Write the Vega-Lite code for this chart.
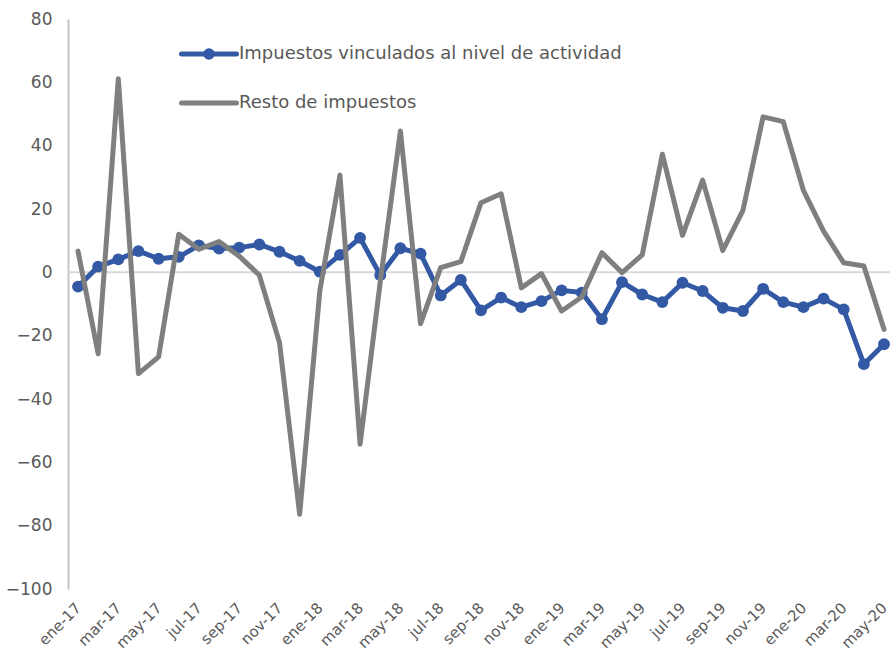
{
  "$schema": "https://vega.github.io/schema/vega-lite/v6.json",
  "width": 822,
  "height": 570,
  "autosize": {"type": "none"},
  "padding": {"left": 68, "top": 19, "right": 1, "bottom": 74},
  "background": "white",
  "config": {"view": {"stroke": null}, "font": "DejaVu Sans"},
  "datasets": {
    "tabla": [
      {"mes": "ene-17", "Impuestos vinculados al nivel de actividad": -4.5, "Resto de impuestos": 6.7},
      {"mes": "feb-17", "Impuestos vinculados al nivel de actividad": 1.8, "Resto de impuestos": -25.7},
      {"mes": "mar-17", "Impuestos vinculados al nivel de actividad": 4.1, "Resto de impuestos": 61.1},
      {"mes": "abr-17", "Impuestos vinculados al nivel de actividad": 6.7, "Resto de impuestos": -32},
      {"mes": "may-17", "Impuestos vinculados al nivel de actividad": 4.3, "Resto de impuestos": -26.7},
      {"mes": "jun-17", "Impuestos vinculados al nivel de actividad": 4.9, "Resto de impuestos": 12},
      {"mes": "jul-17", "Impuestos vinculados al nivel de actividad": 8.5, "Resto de impuestos": 7.3},
      {"mes": "ago-17", "Impuestos vinculados al nivel de actividad": 7.5, "Resto de impuestos": 9.7},
      {"mes": "sep-17", "Impuestos vinculados al nivel de actividad": 7.8, "Resto de impuestos": 5.1},
      {"mes": "oct-17", "Impuestos vinculados al nivel de actividad": 8.8, "Resto de impuestos": -0.9},
      {"mes": "nov-17", "Impuestos vinculados al nivel de actividad": 6.5, "Resto de impuestos": -22.2},
      {"mes": "dic-17", "Impuestos vinculados al nivel de actividad": 3.6, "Resto de impuestos": -76.4},
      {"mes": "ene-18", "Impuestos vinculados al nivel de actividad": 0.2, "Resto de impuestos": -5.9},
      {"mes": "feb-18", "Impuestos vinculados al nivel de actividad": 5.5, "Resto de impuestos": 30.7},
      {"mes": "mar-18", "Impuestos vinculados al nivel de actividad": 10.9, "Resto de impuestos": -54.3},
      {"mes": "abr-18", "Impuestos vinculados al nivel de actividad": -0.9, "Resto de impuestos": -3},
      {"mes": "may-18", "Impuestos vinculados al nivel de actividad": 7.6, "Resto de impuestos": 44.6},
      {"mes": "jun-18", "Impuestos vinculados al nivel de actividad": 5.9, "Resto de impuestos": -16.2},
      {"mes": "jul-18", "Impuestos vinculados al nivel de actividad": -7.3, "Resto de impuestos": 1.5},
      {"mes": "ago-18", "Impuestos vinculados al nivel de actividad": -2.4, "Resto de impuestos": 3.4},
      {"mes": "sep-18", "Impuestos vinculados al nivel de actividad": -12, "Resto de impuestos": 22},
      {"mes": "oct-18", "Impuestos vinculados al nivel de actividad": -8.0, "Resto de impuestos": 24.8},
      {"mes": "nov-18", "Impuestos vinculados al nivel de actividad": -11, "Resto de impuestos": -4.9},
      {"mes": "dic-18", "Impuestos vinculados al nivel de actividad": -9.1, "Resto de impuestos": -0.4},
      {"mes": "ene-19", "Impuestos vinculados al nivel de actividad": -5.7, "Resto de impuestos": -12.2},
      {"mes": "feb-19", "Impuestos vinculados al nivel de actividad": -6.4, "Resto de impuestos": -7.8},
      {"mes": "mar-19", "Impuestos vinculados al nivel de actividad": -14.8, "Resto de impuestos": 6.2},
      {"mes": "abr-19", "Impuestos vinculados al nivel de actividad": -3.1, "Resto de impuestos": -0.1},
      {"mes": "may-19", "Impuestos vinculados al nivel de actividad": -7.0, "Resto de impuestos": 5.5},
      {"mes": "jun-19", "Impuestos vinculados al nivel de actividad": -9.4, "Resto de impuestos": 37.3},
      {"mes": "jul-19", "Impuestos vinculados al nivel de actividad": -3.3, "Resto de impuestos": 11.7},
      {"mes": "ago-19", "Impuestos vinculados al nivel de actividad": -5.9, "Resto de impuestos": 29.1},
      {"mes": "sep-19", "Impuestos vinculados al nivel de actividad": -11.2, "Resto de impuestos": 6.9},
      {"mes": "oct-19", "Impuestos vinculados al nivel de actividad": -12.2, "Resto de impuestos": 19.6},
      {"mes": "nov-19", "Impuestos vinculados al nivel de actividad": -5.2, "Resto de impuestos": 49.1},
      {"mes": "dic-19", "Impuestos vinculados al nivel de actividad": -9.4, "Resto de impuestos": 47.6},
      {"mes": "ene-20", "Impuestos vinculados al nivel de actividad": -11, "Resto de impuestos": 25.9},
      {"mes": "feb-20", "Impuestos vinculados al nivel de actividad": -8.3, "Resto de impuestos": 13.0},
      {"mes": "mar-20", "Impuestos vinculados al nivel de actividad": -11.7, "Resto de impuestos": 3.0},
      {"mes": "abr-20", "Impuestos vinculados al nivel de actividad": -29, "Resto de impuestos": 2.0},
      {"mes": "may-20", "Impuestos vinculados al nivel de actividad": -22.7, "Resto de impuestos": -18}
    ],
    "cero": [{"valor": 0}]
  },
  "layer": [
    {
      "data": {"name": "cero"},
      "mark": {"type": "rule", "color": "#d9d9d9", "strokeWidth": 2},
      "encoding": {
        "y": {
          "field": "valor", "type": "quantitative",
          "scale": {"domain": [-100, 80], "nice": false, "zero": false},
          "axis": {
            "title": null,
            "values": [-100, -80, -60, -40, -20, 0, 20, 40, 60, 80],
            "domain": true,
            "domainColor": "#c6c6c6",
            "domainWidth": 2,
            "ticks": false,
            "grid": false,
            "labelFontSize": 17,
            "labelColor": "#595959",
            "labelPadding": 16
          }
        }
      }
    },
    {
      "data": {"name": "tabla"},
      "transform": [
        {"fold": ["Impuestos vinculados al nivel de actividad", "Resto de impuestos"], "as": ["serie", "valor"]},
        {"filter": "datum.serie == 'Impuestos vinculados al nivel de actividad'"}
      ],
      "mark": {"type": "line", "strokeWidth": 5, "strokeJoin": "round", "strokeCap": "round"},
      "encoding": {
        "x": {
          "field": "mes", "type": "ordinal", "sort": null,
          "scale": {"type": "point", "range": [10, 816], "padding": 0},
          "axis": {
            "title": null,
            "domain": false,
            "ticks": false,
            "grid": false,
            "values": ["ene-17","mar-17","may-17","jul-17","sep-17","nov-17","ene-18","mar-18","may-18","jul-18","sep-18","nov-18","ene-19","mar-19","may-19","jul-19","sep-19","nov-19","ene-20","mar-20","may-20"],
            "labelAngle": -45,
            "labelAlign": "right",
            "labelBaseline": "middle",
            "labelFontSize": 15,
            "labelColor": "#595959",
            "labelPadding": 16,
            "labelOverlap": false
          }
        },
        "y": {"field": "valor", "type": "quantitative"},
        "color": {
          "field": "serie", "type": "nominal",
          "scale": {"domain": ["Impuestos vinculados al nivel de actividad", "Resto de impuestos"], "range": ["#3359a5", "#7f7f7f"]},
          "legend": {
            "title": null,
            "orient": "none",
            "legendX": 111,
            "legendY": 5,
            "padding": 0,
            "symbolType": "stroke",
            "symbolSize": 3025,
            "symbolStrokeWidth": 5,
            "labelFontSize": 18,
            "labelColor": "#595959",
            "labelLimit": 0,
            "labelOffset": 0,
            "rowPadding": 5,
            "encode": {
              "symbols": {
                "update": {
                  "shape": {"signal": "datum.value == 'Resto de impuestos' ? 'M-1,0L1,0' : 'M-1,0L1,0M-0.12,0A0.12,0.12 0 1,0 0.12,0A0.12,0.12 0 1,0 -0.12,0Z'"},
                  "fill": {"signal": "datum.value == 'Resto de impuestos' ? 'transparent' : '#3359a5'"},
                  "strokeCap": {"value": "round"}
                }
              }
            }
          }
        }
      }
    },
    {
      "data": {"name": "tabla"},
      "transform": [
        {"fold": ["Impuestos vinculados al nivel de actividad", "Resto de impuestos"], "as": ["serie", "valor"]},
        {"filter": "datum.serie == 'Impuestos vinculados al nivel de actividad'"}
      ],
      "mark": {"type": "circle", "size": 140, "opacity": 1, "color": "#3359a5"},
      "encoding": {
        "x": {"field": "mes", "type": "ordinal", "sort": null},
        "y": {"field": "valor", "type": "quantitative"}
      }
    },
    {
      "data": {"name": "tabla"},
      "transform": [
        {"fold": ["Impuestos vinculados al nivel de actividad", "Resto de impuestos"], "as": ["serie", "valor"]},
        {"filter": "datum.serie == 'Resto de impuestos'"}
      ],
      "mark": {"type": "line", "strokeWidth": 5, "strokeJoin": "round", "strokeCap": "round"},
      "encoding": {
        "x": {"field": "mes", "type": "ordinal", "sort": null},
        "y": {"field": "valor", "type": "quantitative"},
        "color": {
          "field": "serie", "type": "nominal",
          "scale": {"domain": ["Impuestos vinculados al nivel de actividad", "Resto de impuestos"], "range": ["#3359a5", "#7f7f7f"]}
        }
      }
    }
  ],
  "resolve": {"scale": {"x": "shared", "y": "shared"}}
}
